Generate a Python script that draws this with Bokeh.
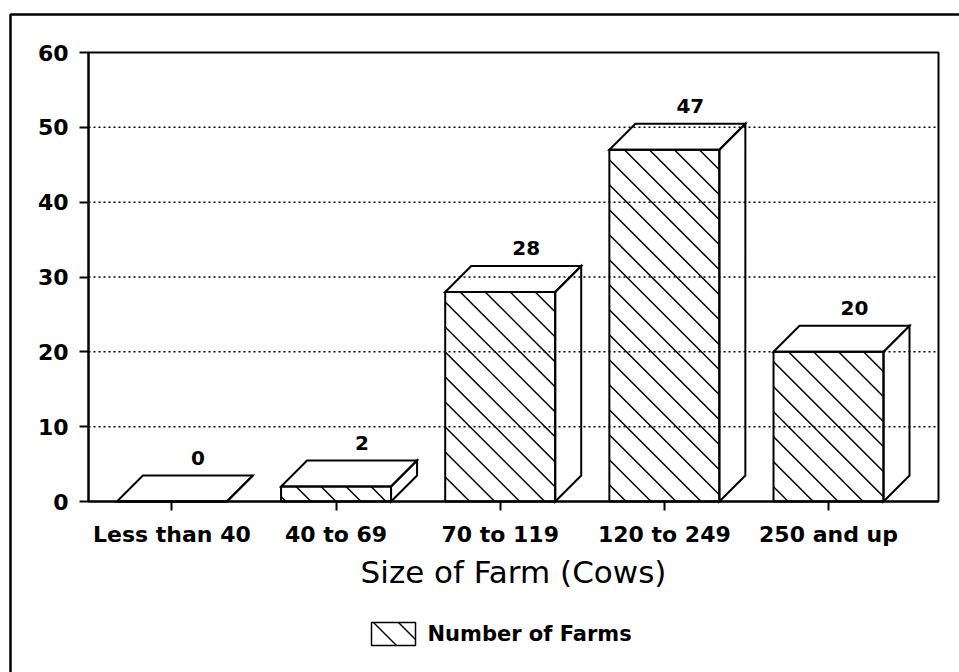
from bokeh.plotting import figure
from bokeh.models import Range1d, FixedTicker
from bokeh.embed import file_html
from bokeh.resources import INLINE
from bokeh.core.properties import value

# ---- data ----
categories = ["Less than 40", "40 to 69", "70 to 119", "120 to 249", "250 and up"]
farms = [0, 2, 28, 47, 20]
y_ticks = [0, 10, 20, 30, 40, 50, 60]
legend_label = "Number of Farms"
x_title = "Size of Farm (Cows)"

# ---- layout / style constants (pixels) ----
W, H = 959, 672
PL, PR, PT, PB = 88, 938, 52, 501          # plot-area box in canvas pixels
X_LO, X_HI = 0.492, 5.67                    # x extent of plot area (category units)
Y_LO, Y_HI = 0, 60
HALF_PX = 55          # half bar width
DEPTH_PX = 26         # 3D depth
HATCH_GAP = 25        # horizontal spacing of 45deg hatch lines
FONT = "DejaVu Sans"

kx = (PR - PL) / (X_HI - X_LO)
ky = (PB - PT) / (Y_HI - Y_LO)


def to_x(px):
    return X_LO + (px - PL) / kx


def to_y(py):
    return Y_LO + (PB - py) / ky


def px_x(x):
    return PL + (x - X_LO) * kx


def px_y(y):
    return PB - (y - Y_LO) * ky


positions = list(range(1, len(categories) + 1))
half = HALF_PX / kx
dx = DEPTH_PX / kx
dy = DEPTH_PX / ky

p = figure(width=W, height=H, output_backend="svg", toolbar_location=None,
           x_range=Range1d(to_x(0), to_x(W)), y_range=Range1d(to_y(H), to_y(0)),
           min_border=0)
p.background_fill_color = "white"
p.border_fill_color = "white"
p.outline_line_color = None
p.xgrid.visible = False
p.ygrid.visible = False


def hatch_segments(X0, X1, Y0, Y1, first):
    """45-degree '\\' lines inside pixel box; first line crosses top edge at X0+first."""
    segs = []
    c = Y0 - (X0 + first)
    while c > Y0 - X1 - HATCH_GAP:
        c -= HATCH_GAP
    c += HATCH_GAP
    while c < Y1 - X0:
        xa = max(X0, Y0 - c)
        xb = min(X1, Y1 - c)
        if xb > xa + 0.5:
            segs.append((xa, xa + c, xb, xb + c))
        c += HATCH_GAP
    return segs


# dotted horizontal grid lines
grid_vals = [t for t in y_ticks if Y_LO < t < Y_HI]
p.segment(x0=[X_LO] * len(grid_vals), x1=[X_HI] * len(grid_vals), y0=grid_vals, y1=grid_vals,
          line_color="black", line_width=1.5, line_dash="2 3")

# plot-area box
p.quad(left=[X_LO], right=[X_HI], bottom=[Y_LO], top=[Y_HI], fill_color=None,
       line_color="black", line_width=2)

# bar front faces
p.quad(left=[c - half for c in positions], right=[c + half for c in positions],
       top=farms, bottom=[0] * len(farms), fill_color=None, line_color="black", line_width=2)

# hatch on front faces
hx0, hy0, hx1, hy1 = [], [], [], []
for c, v in zip(positions, farms):
    for (a, b, e, f) in hatch_segments(px_x(c - half), px_x(c + half), px_y(v), px_y(0), 15):
        hx0.append(to_x(a)); hy0.append(to_y(b)); hx1.append(to_x(e)); hy1.append(to_y(f))
p.segment(x0=hx0, y0=hy0, x1=hx1, y1=hy1, line_color="black", line_width=1.5)

# top faces
top_xs = [[c - half, c + half, c + half + dx, c - half + dx] for c in positions]
top_ys = [[v, v, v + dy, v + dy] for v in farms]
p.patches(xs=top_xs, ys=top_ys, fill_color=None, line_color="black", line_width=2,
          line_join="miter")

# side faces
side_xs = [[c + half, c + half + dx, c + half + dx, c + half] for c in positions]
side_ys = [[0, dy, v + dy, v] for v in farms]
p.patches(xs=side_xs, ys=side_ys, fill_color=None, line_color="black", line_width=2,
          line_join="miter")

# value labels
p.text(x=[c + dx for c in positions], y=[v + dy for v in farms],
       text=[str(v) for v in farms], text_align="center", text_baseline="middle",
       y_offset=-18, text_font=value(FONT), text_font_style="bold",
       text_font_size="20px", text_color="black")

# axes (drawn at the plot-area edges)
p.yaxis.fixed_location = X_LO
p.xaxis.fixed_location = Y_LO
p.yaxis.bounds = (Y_LO, Y_HI)
p.xaxis.bounds = (X_LO, X_HI)
p.yaxis.ticker = FixedTicker(ticks=y_ticks)
p.xaxis.ticker = FixedTicker(ticks=positions)
p.xaxis.major_label_overrides = {c: lab for c, lab in zip(positions, categories)}
for ax in (p.xaxis[0], p.yaxis[0]):
    ax.axis_line_width = 2
    ax.axis_line_color = "black"
    ax.major_tick_line_width = 2
    ax.major_tick_line_color = "black"
    ax.major_tick_out = 9
    ax.major_tick_in = 0
    ax.minor_tick_line_color = None
    ax.major_label_text_font = FONT
    ax.major_label_text_font_style = "bold"
    ax.major_label_text_font_size = "22px"
    ax.major_label_text_color = "black"
p.yaxis.major_label_standoff = 11
p.xaxis.major_label_standoff = 11
p.xaxis.axis_label = x_title
p.xaxis.axis_label_text_font = FONT
p.xaxis.axis_label_text_font_style = "normal"
p.xaxis.axis_label_text_font_size = "31px"
p.xaxis.axis_label_text_color = "black"
p.xaxis.axis_label_standoff = 4

# legend (swatch + label), positioned in canvas pixels
LGX0, LGX1, LGY0, LGY1 = 371, 415, 622, 645
p.quad(left=[to_x(LGX0)], right=[to_x(LGX1)], top=[to_y(LGY0)], bottom=[to_y(LGY1)],
       fill_color=None, line_color="black", line_width=1.5)
lx0, ly0, lx1, ly1 = [], [], [], []
for (a, b, e, f) in hatch_segments(LGX0, LGX1, LGY0, LGY1, 2):
    lx0.append(to_x(a)); ly0.append(to_y(b)); lx1.append(to_x(e)); ly1.append(to_y(f))
p.segment(x0=lx0, y0=ly0, x1=lx1, y1=ly1, line_color="black", line_width=1.5)
p.text(x=[to_x(427)], y=[to_y((LGY0 + LGY1) / 2)], text=[legend_label],
       text_align="left", text_baseline="middle", text_font=value(FONT),
       text_font_style="bold", text_font_size="21px", text_color="black")

# outer border (top and left edges visible in the window)
p.line(x=[to_x(10), to_x(10), to_x(W + 20)], y=[to_y(H + 20), to_y(14), to_y(14)],
       line_color="black", line_width=2.5)

open("out.html", "w").write(file_html(p, INLINE))
